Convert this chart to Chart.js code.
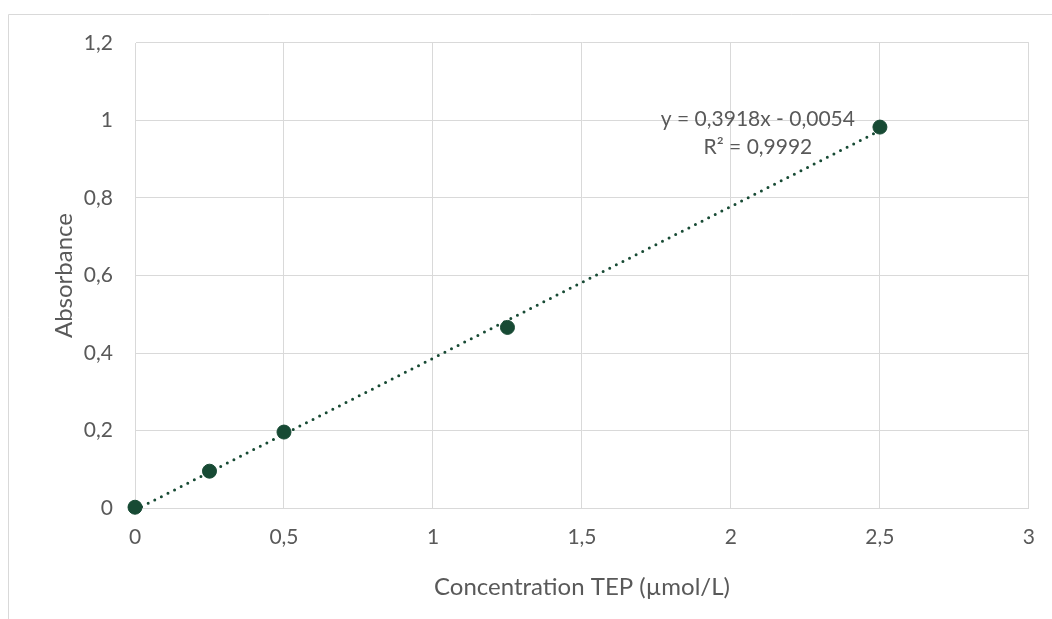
<!DOCTYPE html>
<html>
<head>
<meta charset="utf-8">
<script src="https://cdn.jsdelivr.net/npm/chart.js@4"></script>
<style>
  html, body { margin: 0; padding: 0; background: #fff; }
  #wrap { width: 1052px; height: 619px; }
</style>
</head>
<body>
<div id="wrap"><canvas id="chart" width="1052" height="619"></canvas></div>
<script>
// Data
const concentrations = [0, 0.25, 0.5, 1.25, 2.5];
const absorbances = [0.002, 0.095, 0.196, 0.466, 0.983];
const xTickLabels = ['0', '0,5', '1', '1,5', '2', '2,5', '3'];
const yTickLabels = ['0', '0,2', '0,4', '0,6', '0,8', '1', '1,2'];
const trendSlope = 0.3918;
const trendIntercept = -0.0054;
const trendText = ['y = 0,3918x - 0,0054', 'R² = 0,9992'];

const green = '#174a34';
const textColor = '#595959';
const gridColor = '#d9d9d9';
const font = 'Lato';

// trendline from the smallest to the largest concentration
const xMin = Math.min(...concentrations);
const xMax = Math.max(...concentrations);
const trendPoints = [xMin, xMax].map(x => ({ x: x, y: trendSlope * x + trendIntercept }));

// outer frame + equation label
const decorations = {
    id: 'decorations',
    beforeDraw(chart) {
        const c = chart.ctx;
        c.save();
        c.strokeStyle = gridColor;
        c.lineWidth = 1;
        c.beginPath();
        c.moveTo(8.5, chart.height + 2);
        c.lineTo(8.5, 14.5);
        c.lineTo(chart.width + 2, 14.5);
        c.stroke();
        c.restore();
    },
    afterDatasetsDraw(chart) {
        const c = chart.ctx;
        const a = chart.chartArea;
        c.save();
        c.fillStyle = textColor;
        c.font = '21px ' + font;
        c.textAlign = 'center';
        c.textBaseline = 'middle';
        const cx = a.right - 271;
        c.fillText(trendText[0], cx, a.top + 76);
        c.fillText(trendText[1], cx, a.top + 104);
        c.restore();
    }
};

const ctx = document.getElementById('chart').getContext('2d');
const calibChart = new Chart(ctx, {
    type: 'scatter',
    data: {
        datasets: [{
            label: 'Trend',
            data: trendPoints,
            showLine: true,
            borderColor: green,
            borderWidth: 3,
            borderDash: [0, 7.4],
            borderCapStyle: 'round',
            pointRadius: 0,
            clip: false,
            order: 2
        }, {
            label: 'Absorbance',
            data: concentrations.map((x, i) => ({ x: x, y: absorbances[i] })),
            backgroundColor: green,
            borderColor: green,
            pointRadius: 7,
            clip: false,
            order: 1
        }]
    },
    options: {
        responsive: false,
        animation: false,
        layout: { padding: { left: 50, right: 19, top: 43, bottom: 0 } },
        plugins: {
            legend: { display: false },
            tooltip: { enabled: false }
        },
        scales: {
            x: {
                type: 'linear',
                min: 0,
                max: 3,
                afterFit: scale => { scale.height = 111; },
                afterBuildTicks: scale => {
                    scale.ticks = xTickLabels.map((t, i) => ({ value: i * 0.5 }));
                },
                grid: { color: gridColor, drawTicks: false },
                border: { color: gridColor },
                ticks: {
                    padding: 17,
                    color: textColor,
                    font: { family: font, size: 21 },
                    callback: (v, i) => xTickLabels[i]
                },
                title: {
                    display: true,
                    text: 'Concentration TEP (µmol/L)',
                    color: textColor,
                    font: { family: font, size: 24 },
                    padding: { top: 0, bottom: 17 }
                }
            },
            y: {
                min: 0,
                max: 1.2,
                afterFit: scale => { scale.width = 85; },
                afterBuildTicks: scale => {
                    scale.ticks = yTickLabels.map((t, i) => ({ value: i * 0.2 }));
                },
                grid: { color: gridColor, drawTicks: false },
                border: { color: gridColor },
                ticks: {
                    padding: 22,
                    color: textColor,
                    font: { family: font, size: 21 },
                    callback: (v, i) => yTickLabels[i]
                },
                title: {
                    display: true,
                    text: 'Absorbance',
                    color: textColor,
                    font: { family: font, size: 24 },
                    padding: 0
                }
            }
        }
    },
    plugins: [decorations]
});
</script>
</body>
</html>
